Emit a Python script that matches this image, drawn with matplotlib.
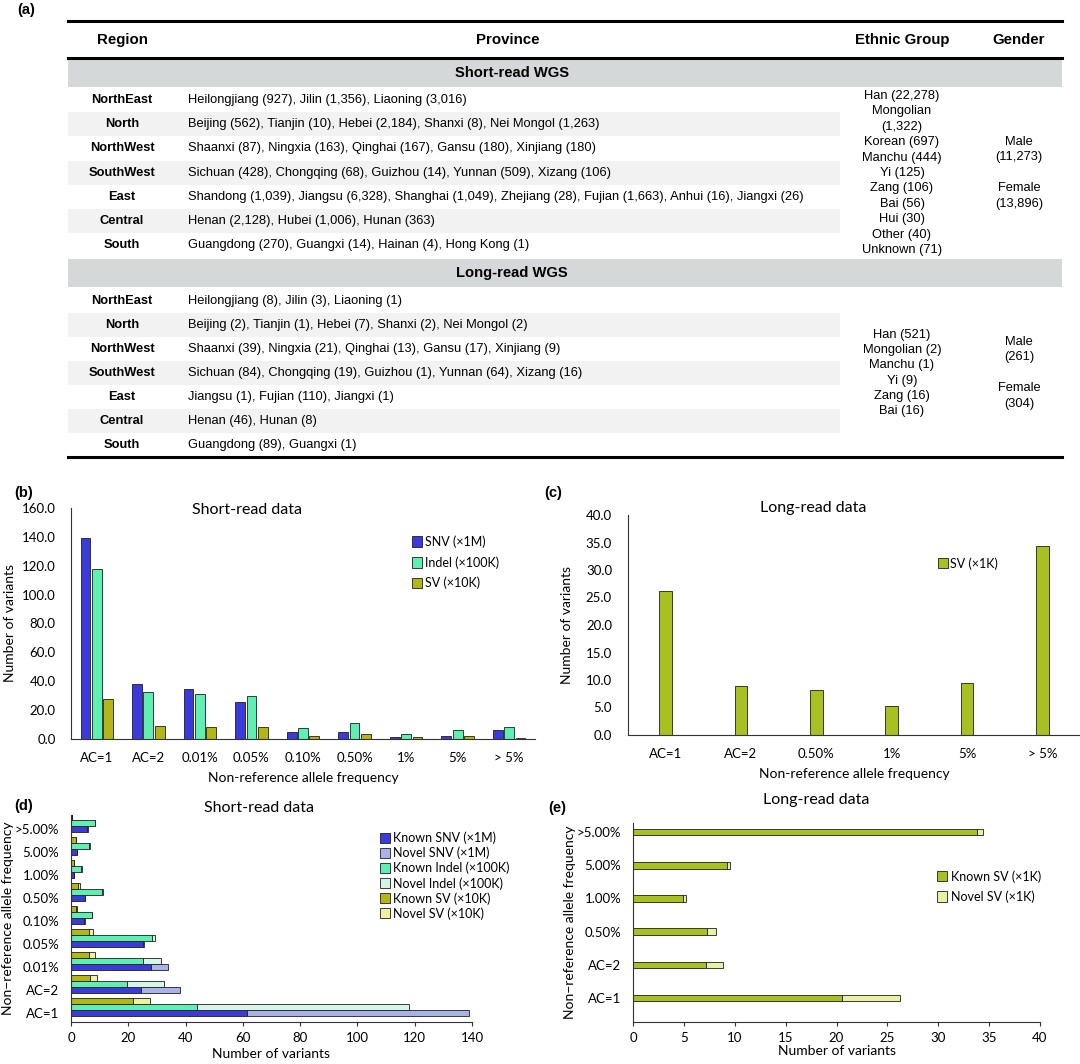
import numpy as np
import matplotlib.pyplot as plt
from matplotlib.patches import Rectangle

# ---------------- data : table (a)
regions = ["NorthEast", "North", "NorthWest", "SouthWest", "East", "Central", "South"]
short_provinces = [
    "Heilongjiang (927), Jilin (1,356), Liaoning (3,016)",
    "Beijing (562), Tianjin (10), Hebei (2,184), Shanxi (8), Nei Mongol (1,263)",
    "Shaanxi (87), Ningxia (163), Qinghai (167), Gansu (180), Xinjiang (180)",
    "Sichuan (428), Chongqing (68), Guizhou (14), Yunnan (509), Xizang (106)",
    "Shandong (1,039), Jiangsu (6,328), Shanghai (1,049), Zhejiang (28), Fujian (1,663), Anhui (16), Jiangxi (26)",
    "Henan (2,128), Hubei (1,006), Hunan (363)",
    "Guangdong (270), Guangxi (14), Hainan (4), Hong Kong (1)",
]
long_provinces = [
    "Heilongjiang (8), Jilin (3), Liaoning (1)",
    "Beijing (2), Tianjin (1), Hebei (7), Shanxi (2), Nei Mongol (2)",
    "Shaanxi (39), Ningxia (21), Qinghai (13), Gansu (17), Xinjiang (9)",
    "Sichuan (84), Chongqing (19), Guizhou (1), Yunnan (64), Xizang (16)",
    "Jiangsu (1), Fujian (110), Jiangxi (1)",
    "Henan (46), Hunan (8)",
    "Guangdong (89), Guangxi (1)",
]
short_ethnic = ["Han (22,278)", "Mongolian", "(1,322)", "Korean (697)", "Manchu (444)", "Yi (125)",
                "Zang (106)", "Bai (56)", "Hui (30)", "Other (40)", "Unknown (71)"]
short_gender = ["Male", "(11,273)", "", "Female", "(13,896)"]
long_ethnic = ["Han (521)", "Mongolian (2)", "Manchu (1)", "Yi (9)", "Zang (16)", "Bai (16)"]
long_gender = ["Male", "(261)", "", "Female", "(304)"]

# ---------------- data : (b) short-read
freq_b = ["AC=1", "AC=2", "0.01%", "0.05%", "0.10%", "0.50%", "1%", "5%", "> 5%"]
snv_b = [139.0, 38.0, 34.5, 25.5, 5.0, 5.0, 1.2, 2.3, 6.0]
indel_b = [118.0, 32.5, 31.0, 29.5, 7.5, 11.0, 3.8, 6.5, 8.5]
sv_b = [27.5, 9.0, 8.5, 8.0, 2.3, 3.2, 1.2, 1.8, 0.6]

# ---------------- data : (c) long-read
freq_c = ["AC=1", "AC=2", "0.50%", "1%", "5%", "> 5%"]
sv_c = [26.2, 8.9, 8.1, 5.2, 9.5, 34.4]

# ---------------- data : (d) short-read known / novel
freq_d = ["AC=1", "AC=2", "0.01%", "0.05%", "0.10%", "0.50%", "1.00%", "5.00%", ">5.00%"]
known_snv = [61.5, 24.5, 28.0, 25.3, 4.5, 4.8, 1.0, 2.0, 5.7]
novel_snv = [77.5, 13.5, 6.0, 0.2, 0.3, 0.2, 0.2, 0.2, 0.3]
known_indel = [44.0, 19.5, 25.0, 28.3, 7.2, 10.8, 3.5, 6.3, 8.3]
novel_indel = [74.0, 13.0, 6.3, 1.2, 0.3, 0.2, 0.2, 0.2, 0.2]
known_sv = [21.5, 6.8, 6.3, 6.3, 1.7, 2.6, 0.9, 1.7, 0.4]
novel_sv = [6.0, 2.2, 2.0, 1.4, 0.3, 0.4, 0.3, 0.2, 0.1]

# ---------------- data : (e) long-read known / novel
freq_e = ["AC=1", "AC=2", "0.50%", "1.00%", "5.00%", ">5.00%"]
known_lr = [20.5, 7.2, 7.3, 4.9, 9.2, 33.8]
novel_lr = [5.7, 1.6, 0.9, 0.3, 0.3, 0.6]

# couleurs
c_snv = "#3b3bdb"
c_snv_n = "#a9b3ea"
c_indel = "#5fefb0"
c_indel_n = "#d3f6e6"
c_sv = "#b2b616"
c_sv_n = "#f0f0a0"
c_lr = "#a8c020"
c_lr_n = "#e8f0a2"
edge = "#1e1e1e"

W, H = 1080, 1064
TABLE_FONT = "Liberation Sans"
CHART_FONT = "Lato"
TICK_SIZE = 9.5
LABEL_SIZE = 10
BODY = 9.3

fig = plt.figure(figsize=(10.8, 10.64), dpi=100)


def box(x0, y0, x1, y1):
    # rectangle en pixels (origine en haut a gauche) -> fraction de figure
    return [x0 / W, 1 - y1 / H, (x1 - x0) / W, (y1 - y0) / H]


# --------------------------- (a) le tableau
axT = fig.add_axes(box(0, 0, W, 470))
axT.set_xlim(0, W)
axT.set_ylim(470, 0)
axT.axis("off")

left, right = 68, 1062
x_region, x_prov, x_eth, x_gen = 122, 188, 902, 1019

axT.plot([left, right], [21, 21], color="black", lw=2.2)
axT.plot([left, right], [58, 58], color="black", lw=2.2)
axT.plot([left, right], [457, 457], color="black", lw=2.2)

for x, t in [(x_region, "Region"), (508, "Province"), (x_eth, "Ethnic Group"), (x_gen, "Gender")]:
    axT.text(x, 40, t, ha="center", va="center", fontsize=10.8, fontweight="bold", family=TABLE_FONT)


def section(title, band_top, first_row, step, provinces):
    axT.add_patch(Rectangle((left, band_top), right - left, 28, color="#d5d8d8", lw=0))
    axT.text(512, band_top + 14, title, ha="center", va="center", fontsize=10.6,
             fontweight="bold", family=TABLE_FONT)
    for i, (reg, prov) in enumerate(zip(regions, provinces)):
        y = first_row + i * step
        if i % 2 == 1:
            axT.add_patch(Rectangle((left, y - step / 2), 840 - left, step, color="#f2f2f2", lw=0))
        axT.text(x_region, y, reg, ha="center", va="center", fontsize=BODY,
                 fontweight="bold", family=TABLE_FONT)
        axT.text(x_prov, y, prov, ha="left", va="center", fontsize=BODY, family=TABLE_FONT)


section("Short-read WGS", 59, 100, 24.2, short_provinces)
section("Long-read WGS", 259, 301, 24.0, long_provinces)

for i, t in enumerate(short_ethnic):
    axT.text(x_eth, 96 + i * 15.4, t, ha="center", va="center", fontsize=BODY, family=TABLE_FONT)
for i, t in enumerate(short_gender):
    axT.text(x_gen, 142 + i * 15.4, t, ha="center", va="center", fontsize=BODY, family=TABLE_FONT)
for i, t in enumerate(long_ethnic):
    axT.text(x_eth, 335 + i * 15.2, t, ha="center", va="center", fontsize=BODY, family=TABLE_FONT)
for i, t in enumerate(long_gender):
    axT.text(x_gen, 342 + i * 15.4, t, ha="center", va="center", fontsize=BODY, family=TABLE_FONT)


def style_axes(ax):
    ax.spines["top"].set_visible(False)
    ax.spines["right"].set_visible(False)
    ax.spines["left"].set_color("#333333")
    ax.spines["bottom"].set_color("#333333")
    for lab in ax.get_xticklabels() + ax.get_yticklabels():
        lab.set_family(CHART_FONT)
        lab.set_fontsize(TICK_SIZE)


# --------------------------- (b) short-read barres verticales
axB = fig.add_axes(box(71, 508, 535, 739))
x = np.arange(len(freq_b))
axB.bar(x - 0.22, snv_b, 0.19, color=c_snv, edgecolor=edge, lw=0.6, label="SNV (×1M)")
axB.bar(x, indel_b, 0.19, color=c_indel, edgecolor=edge, lw=0.6, label="Indel (×100K)")
axB.bar(x + 0.22, sv_b, 0.19, color=c_sv, edgecolor=edge, lw=0.6, label="SV (×10K)")
axB.set_xlim(-0.5, 8.5)
axB.set_ylim(0, 160)
axB.set_yticks(np.arange(0, 161, 20))
axB.set_yticklabels([f"{v:.1f}" for v in np.arange(0, 161, 20)])
axB.set_xticks(x)
axB.set_xticklabels(freq_b)
axB.tick_params(axis="x", length=0, pad=9)
axB.tick_params(axis="y", length=0, pad=11)
style_axes(axB)
axB.set_xlabel("Non-reference allele frequency", family=CHART_FONT, fontsize=LABEL_SIZE, labelpad=6)
axB.set_ylabel("Number of variants", family=CHART_FONT, fontsize=LABEL_SIZE)
axB.yaxis.set_label_coords(-0.119, 0.5)
axB.set_title("Short-read data", family=CHART_FONT, fontsize=11.5, pad=0, x=0.38, y=0.975)
axB.legend(loc="upper left", bbox_to_anchor=(0.71, 0.93), frameon=False, handlelength=0.8,
           handleheight=0.9, handletextpad=0.3, labelspacing=0.65, prop={"family": CHART_FONT, "size": 9})

# --------------------------- (c) long-read barres verticales
axC = fig.add_axes(box(628, 515, 1080, 735))
x = np.arange(len(freq_c))
axC.bar(x, sv_c, 0.17, color=c_lr, edgecolor=edge, lw=0.6, label="SV (×1K)")
axC.set_xlim(-0.5, 5.5)
axC.set_ylim(0, 40)
axC.set_yticks(np.arange(0, 41, 5))
axC.set_yticklabels([f"{v:.1f}" for v in np.arange(0, 41, 5)])
axC.set_xticks(x)
axC.set_xticklabels(freq_c)
axC.tick_params(axis="x", length=0, pad=9)
axC.tick_params(axis="y", length=0, pad=11.5)
style_axes(axC)
axC.set_xlabel("Non-reference allele frequency", family=CHART_FONT, fontsize=LABEL_SIZE, labelpad=6)
axC.set_ylabel("Number of variants", family=CHART_FONT, fontsize=LABEL_SIZE)
axC.yaxis.set_label_coords(-0.122, 0.5)
axC.set_title("Long-read data", family=CHART_FONT, fontsize=11.5, pad=2, x=0.41)
axC.legend(loc="upper left", bbox_to_anchor=(0.66, 0.86), frameon=False, handlelength=0.8,
           handleheight=0.9, handletextpad=0.2, prop={"family": CHART_FONT, "size": 9})

# --------------------------- (d) short-read barres horizontales empilees
axD = fig.add_axes(box(71, 815, 472, 1022))
y = np.arange(len(freq_d))
h = 0.26
axD.barh(y, known_snv, h, color=c_snv, edgecolor=edge, lw=0.6, label="Known SNV (×1M)")
axD.barh(y, novel_snv, h, left=known_snv, color=c_snv_n, edgecolor=edge, lw=0.6, label="Novel SNV (×1M)")
axD.barh(y + h, known_indel, h, color=c_indel, edgecolor=edge, lw=0.6, label="Known Indel (×100K)")
axD.barh(y + h, novel_indel, h, left=known_indel, color=c_indel_n, edgecolor=edge, lw=0.6,
         label="Novel Indel (×100K)")
axD.barh(y + 2 * h, known_sv, h, color=c_sv, edgecolor=edge, lw=0.6, label="Known SV (×10K)")
axD.barh(y + 2 * h, novel_sv, h, left=known_sv, color=c_sv_n, edgecolor=edge, lw=0.6, label="Novel SV (×10K)")
axD.set_xlim(0, 140)
axD.set_ylim(-0.39, 8.61)
axD.set_xticks(np.arange(0, 141, 20))
axD.set_yticks(y)
axD.set_yticklabels(freq_d)
axD.tick_params(axis="y", length=0, pad=8.5)
axD.tick_params(axis="x", length=3, color="#333333", pad=4)
style_axes(axD)
axD.set_xlabel("Number of variants", family=CHART_FONT, fontsize=LABEL_SIZE, labelpad=3)
axD.set_ylabel("Non\u2212reference allele frequency", family=CHART_FONT, fontsize=LABEL_SIZE)
axD.yaxis.set_label_coords(-0.142, 0.5)
axD.set_title("Short-read data", family=CHART_FONT, fontsize=11.5, pad=0, x=0.47)
axD.legend(loc="upper left", bbox_to_anchor=(0.743, 0.973), frameon=False, handlelength=0.8,
           handleheight=0.8, handletextpad=0.2, labelspacing=0.2, prop={"family": CHART_FONT, "size": 9})

# --------------------------- (e) long-read barres horizontales empilees
axE = fig.add_axes(box(633, 823, 1040, 1022))
y = np.arange(len(freq_e))
axE.barh(y, known_lr, 0.2, color=c_lr, edgecolor=edge, lw=0.6, label="Known SV (×1K)")
axE.barh(y, novel_lr, 0.2, left=known_lr, color=c_lr_n, edgecolor=edge, lw=0.6, label="Novel SV (×1K)")
axE.set_xlim(0, 40)
axE.set_ylim(-0.72, 5.27)
axE.set_xticks(np.arange(0, 41, 5))
axE.set_yticks(y)
axE.set_yticklabels(freq_e)
axE.tick_params(axis="y", length=0, pad=8.5)
axE.tick_params(axis="x", length=3, color="#333333", pad=4)
style_axes(axE)
axE.set_xlabel("Number of variants", family=CHART_FONT, fontsize=LABEL_SIZE, labelpad=1)
axE.set_ylabel("Non\u2212reference allele frequency", family=CHART_FONT, fontsize=LABEL_SIZE)
axE.yaxis.set_label_coords(-0.14, 0.5)
axE.set_title("Long-read data", family=CHART_FONT, fontsize=11.5, pad=14, x=0.45)
axE.legend(loc="upper left", bbox_to_anchor=(0.72, 0.82), frameon=False, handlelength=0.8,
           handleheight=0.9, handletextpad=0.3, labelspacing=0.6, prop={"family": CHART_FONT, "size": 9})

# lettres des panneaux
for px, py, lab in [(17, 10, "(a)"), (14, 493, "(b)"), (544, 493, "(c)"), (14, 806, "(d)"), (548, 808, "(e)")]:
    fig.text(px / W, 1 - py / H, lab, ha="left", va="center", fontsize=10.5, fontweight="bold", family=TABLE_FONT)

fig.savefig("out.png", dpi=100, facecolor="white")
